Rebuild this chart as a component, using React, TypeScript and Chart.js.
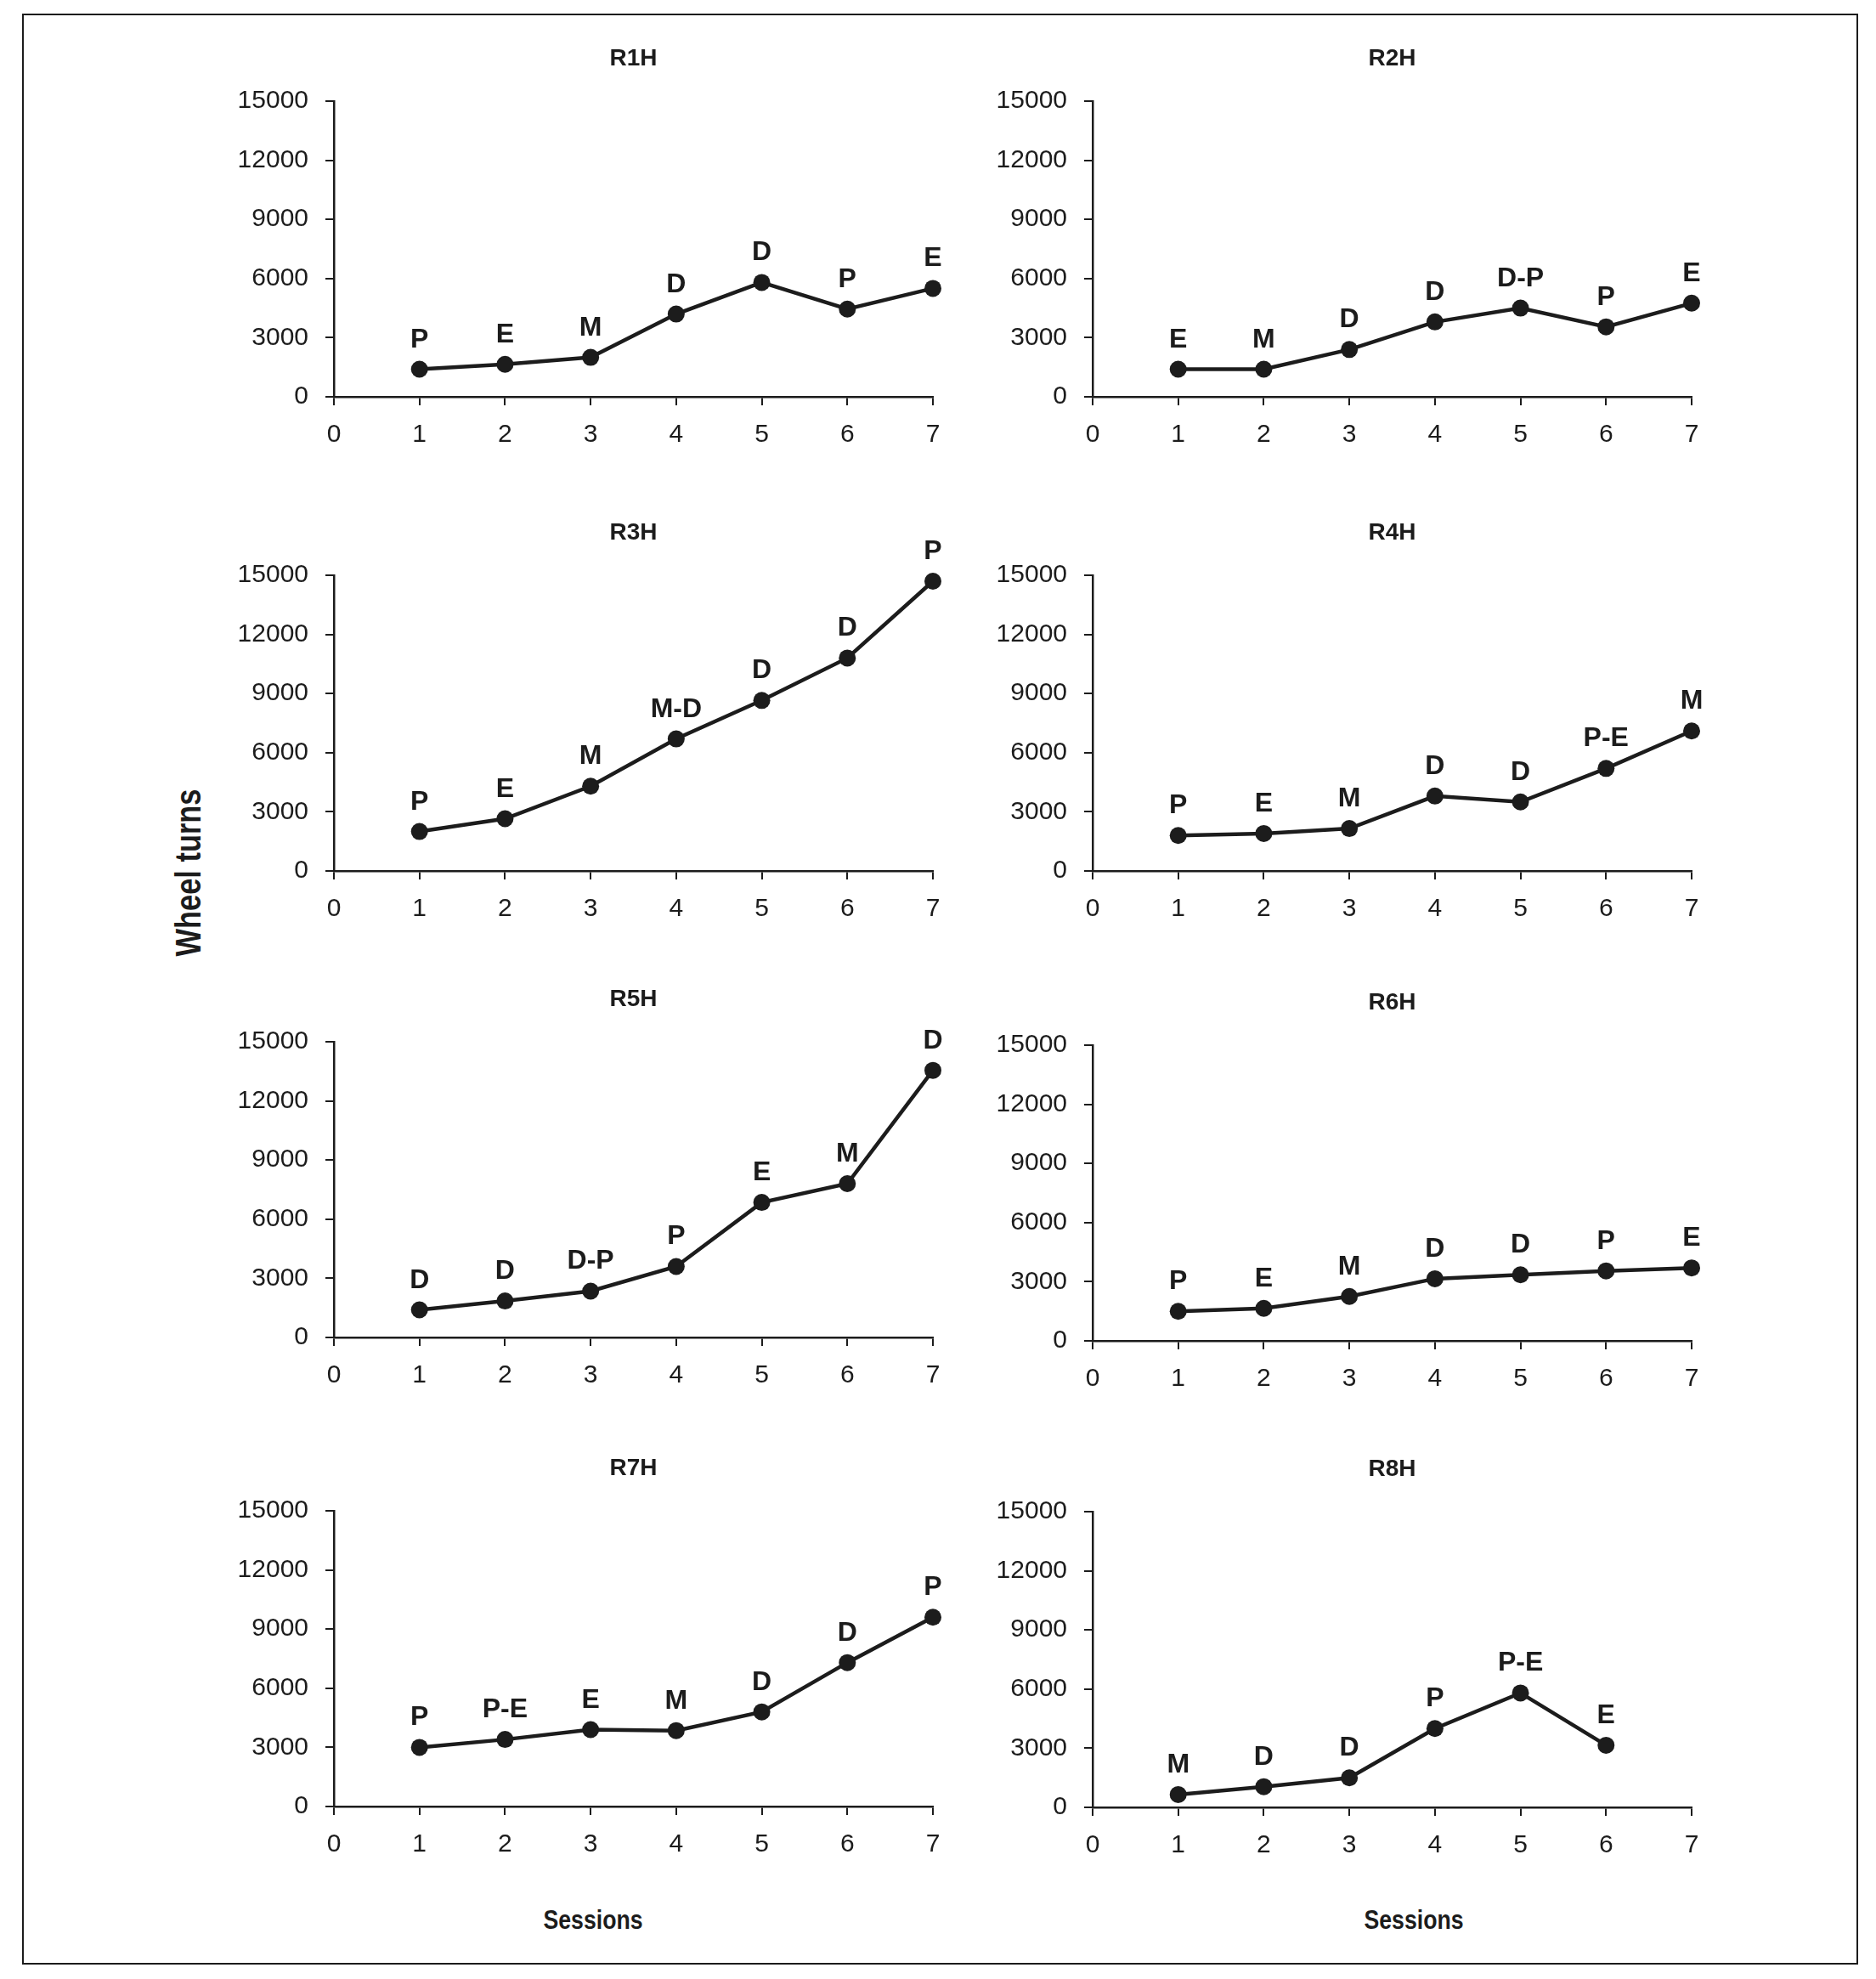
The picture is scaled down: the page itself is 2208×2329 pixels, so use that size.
import { useEffect, useRef } from "react"
import { Chart, registerables } from "chart.js"

Chart.register(...registerables)

const sessions = [1, 2, 3, 4, 5, 6, 7]
const xTicks = [0, 1, 2, 3, 4, 5, 6, 7]
const yTicks = [0, 3000, 6000, 9000, 12000, 15000]

const r1hTurns = [1400, 1650, 2000, 4200, 5800, 4450, 5500]
const r1hLabels = ["P", "E", "M", "D", "D", "P", "E"]
const r2hTurns = [1400, 1400, 2400, 3800, 4500, 3550, 4750]
const r2hLabels = ["E", "M", "D", "D", "D-P", "P", "E"]
const r3hTurns = [2000, 2650, 4300, 6700, 8650, 10800, 14700]
const r3hLabels = ["P", "E", "M", "M-D", "D", "D", "P"]
const r4hTurns = [1800, 1900, 2150, 3800, 3500, 5200, 7100]
const r4hLabels = ["P", "E", "M", "D", "D", "P-E", "M"]
const r5hTurns = [1400, 1850, 2350, 3600, 6850, 7800, 13550]
const r5hLabels = ["D", "D", "D-P", "P", "E", "M", "D"]
const r6hTurns = [1500, 1650, 2250, 3150, 3350, 3550, 3700]
const r6hLabels = ["P", "E", "M", "D", "D", "P", "E"]
const r7hTurns = [3000, 3400, 3900, 3850, 4800, 7300, 9600]
const r7hLabels = ["P", "P-E", "E", "M", "D", "D", "P"]
const r8hTurns = [650, 1050, 1500, 4000, 5800, 3150]
const r8hLabels = ["M", "D", "D", "P", "P-E", "E"]

const INK = "#1c1c1c"
const FONT = '"Liberation Sans", Arial, Helvetica, sans-serif'

// plot box geometry (page pixels)
const PLOT_W = 705
const PLOT_H = 348
const Y_W = 140
const TITLE_H = 90
const X_H = 70
const CANVAS_W = Y_W + PLOT_W + Y_W
const CANVAS_H = TITLE_H + PLOT_H + X_H

interface PanelProps {
  title: string
  turns: number[]
  labels: string[]
  left: number
  top: number
}

function Panel({ title, turns, labels, left, top }: PanelProps) {
  const canvasRef = useRef<HTMLCanvasElement>(null)

  useEffect(() => {
    if (!canvasRef.current) return
    const ctx = canvasRef.current.getContext("2d")
    if (!ctx) return

    // panel title over the plot area + letter codes above each point
    const labelPlugin = {
      id: "pointLabels",
      afterDatasetsDraw(chart: Chart) {
        const { chartArea } = chart
        const meta = chart.getDatasetMeta(0)
        const c = chart.ctx
        c.save()
        c.fillStyle = INK
        c.textAlign = "center"
        c.textBaseline = "middle"
        c.font = `bold 28px ${FONT}`
        c.fillText(title, (chartArea.left + chartArea.right) / 2, chartArea.top - 50)
        c.textBaseline = "alphabetic"
        c.font = `bold 32px ${FONT}`
        meta.data.forEach((pt, i) => {
          c.fillText(labels[i], pt.x, pt.y - 26)
        })
        c.restore()
      },
    }

    const axisStyle = {
      grid: { display: true, drawOnChartArea: false, drawTicks: true, tickLength: 10, color: INK, lineWidth: 2 },
      border: { display: true, color: INK, width: 2.5 },
    }

    const chart = new Chart(ctx, {
      type: "line",
      data: {
        datasets: [
          {
            data: turns.map((v, i) => ({ x: sessions[i], y: v })),
            borderColor: INK,
            borderWidth: 4.5,
            pointRadius: 10,
            pointBackgroundColor: INK,
            pointBorderColor: INK,
            pointBorderWidth: 0,
            tension: 0,
            clip: false,
          },
        ],
      },
      options: {
        responsive: false,
        animation: false,
        layout: { padding: { left: 0, right: Y_W, top: TITLE_H, bottom: 0 } },
        plugins: {
          legend: { display: false },
          tooltip: { enabled: false },
          title: { display: false },
        },
        scales: {
          x: {
            type: "linear",
            min: 0,
            max: 7,
            ...axisStyle,
            afterBuildTicks: (scale: any) => {
              scale.ticks = xTicks.map((v) => ({ value: v }))
            },
            afterFit: (scale: any) => {
              scale.height = X_H
            },
            ticks: { color: INK, padding: 17, font: { family: FONT, size: 30 }, callback: (v: any) => String(v) },
          },
          y: {
            type: "linear",
            min: 0,
            max: 15000,
            ...axisStyle,
            afterBuildTicks: (scale: any) => {
              scale.ticks = yTicks.map((v) => ({ value: v }))
            },
            afterFit: (scale: any) => {
              scale.width = Y_W
            },
            ticks: { color: INK, padding: 20, font: { family: FONT, size: 30 }, callback: (v: any) => String(v) },
          },
        },
      },
      plugins: [labelPlugin],
    })

    return () => {
      chart.destroy()
    }
  }, [title, turns, labels])

  return (
    <canvas
      ref={canvasRef}
      width={CANVAS_W}
      height={CANVAS_H}
      style={{ position: "absolute", left: left - Y_W, top: top - TITLE_H, width: CANVAS_W, height: CANVAS_H }}
    />
  )
}

const LEFT_X = 393
const RIGHT_X = 1286

const sessionsStyle = {
  position: "absolute" as const,
  top: 2260,
  transform: "translate(-50%, -50%) scaleX(0.86)",
  whiteSpace: "nowrap" as const,
  font: `bold 31px ${FONT}`,
  color: INK,
}

export default function App() {
  return (
    <div style={{ position: "absolute", left: 0, top: 0, width: 2208, height: 2329, background: "#fff", overflow: "hidden" }}>
      <div
        style={{
          position: "absolute",
          left: 26,
          top: 16,
          width: 2161,
          height: 2296,
          border: `2.5px solid ${INK}`,
          boxSizing: "border-box",
        }}
      />
      <Panel title="R1H" turns={r1hTurns} labels={r1hLabels} left={LEFT_X} top={119} />
      <Panel title="R2H" turns={r2hTurns} labels={r2hLabels} left={RIGHT_X} top={119} />
      <Panel title="R3H" turns={r3hTurns} labels={r3hLabels} left={LEFT_X} top={677} />
      <Panel title="R4H" turns={r4hTurns} labels={r4hLabels} left={RIGHT_X} top={677} />
      <Panel title="R5H" turns={r5hTurns} labels={r5hLabels} left={LEFT_X} top={1226} />
      <Panel title="R6H" turns={r6hTurns} labels={r6hLabels} left={RIGHT_X} top={1230} />
      <Panel title="R7H" turns={r7hTurns} labels={r7hLabels} left={LEFT_X} top={1778} />
      <Panel title="R8H" turns={r8hTurns} labels={r8hLabels} left={RIGHT_X} top={1779} />
      <div
        style={{
          position: "absolute",
          left: 221,
          top: 1027,
          transform: "translate(-50%, -50%) rotate(-90deg) scaleX(0.8)",
          whiteSpace: "nowrap",
          font: `bold 43px ${FONT}`,
          color: INK,
        }}
      >
        Wheel turns
      </div>
      <div style={{ ...sessionsStyle, left: 698 }}>Sessions</div>
      <div style={{ ...sessionsStyle, left: 1664 }}>Sessions</div>
    </div>
  )
}
